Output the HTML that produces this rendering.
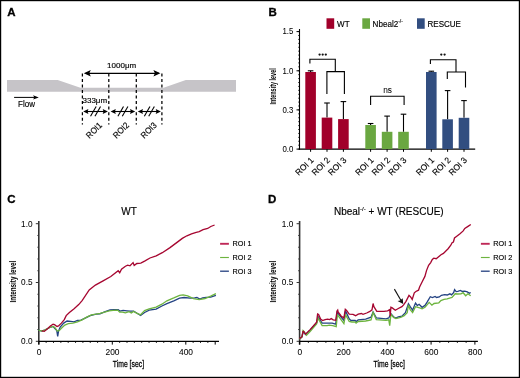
<!DOCTYPE html>
<html><head><meta charset="utf-8"><style>
html,body{margin:0;padding:0;background:#fff;}
svg{display:block;will-change:transform;}
text{font-family:"Liberation Sans", sans-serif;fill:#000;}
</style></head><body>
<svg width="520" height="378" viewBox="0 0 520 378">
<rect x="0" y="0" width="520" height="378" fill="#fff"/>
<text transform="translate(7.30 16.00)" font-size="11.5" stroke="#000" stroke-width="0.3" font-weight="bold">A</text>
<polygon fill="#c6c4c8" points="7,80 57.7,80 80.4,87.8 163.6,87.8 185.8,80 236,80 236,91.7 7,91.7"/>
<line x1="14.1" y1="97.4" x2="35" y2="97.4" stroke="#000" stroke-width="1"/>
<polygon points="38.8,97.4 33.1,95.3 34.3,97.4 33.1,99.5" fill="#000"/>
<text transform="translate(18.10 107.30) scale(0.93 1)" font-size="8.6" stroke="#000" stroke-width="0.15">Flow</text>
<line x1="82.4" y1="73.5" x2="82.4" y2="124.4" stroke="#000" stroke-width="1.25" stroke-dasharray="3,2.52"/>
<line x1="108.8" y1="73.5" x2="108.8" y2="124.4" stroke="#000" stroke-width="1.25" stroke-dasharray="3,2.52"/>
<line x1="136.3" y1="73.5" x2="136.3" y2="124.4" stroke="#000" stroke-width="1.25" stroke-dasharray="3,2.52"/>
<line x1="161.9" y1="73.5" x2="161.9" y2="124.4" stroke="#000" stroke-width="1.25" stroke-dasharray="3,2.52"/>
<line x1="86" y1="73.3" x2="159" y2="73.3" stroke="#000" stroke-width="1.15"/>
<polygon points="83.8,73.3 90.8,70.1 89.3,73.3 90.8,76.5" fill="#000"/>
<polygon points="160.4,73.3 153.4,70.1 154.9,73.3 153.4,76.5" fill="#000"/>
<text transform="translate(107.10 67.60)" font-size="8" stroke="#000" stroke-width="0.15">1000μm</text>
<text transform="translate(82.50 102.50)" font-size="8" stroke="#000" stroke-width="0.15">333μm</text>
<line x1="86.2" y1="111.5" x2="104.9" y2="111.5" stroke="#000" stroke-width="1.1"/>
<polygon points="83.2,111.5 88.4,109.1 87.60000000000001,111.5 88.4,113.9" fill="#000"/>
<polygon points="107.9,111.5 102.7,109.1 103.5,111.5 102.7,113.9" fill="#000"/>
<line x1="90.55" y1="116.3" x2="96.15" y2="106.5" stroke="#000" stroke-width="1.1"/>
<line x1="94.95" y1="116.3" x2="100.55" y2="106.5" stroke="#000" stroke-width="1.1"/>
<line x1="113.6" y1="111.5" x2="132.2" y2="111.5" stroke="#000" stroke-width="1.1"/>
<polygon points="110.6,111.5 115.8,109.1 115.0,111.5 115.8,113.9" fill="#000"/>
<polygon points="135.2,111.5 130.0,109.1 130.79999999999998,111.5 130.0,113.9" fill="#000"/>
<line x1="117.90" y1="116.3" x2="123.50" y2="106.5" stroke="#000" stroke-width="1.1"/>
<line x1="122.30" y1="116.3" x2="127.90" y2="106.5" stroke="#000" stroke-width="1.1"/>
<line x1="140.8" y1="111.5" x2="157.9" y2="111.5" stroke="#000" stroke-width="1.1"/>
<polygon points="137.8,111.5 143.0,109.1 142.20000000000002,111.5 143.0,113.9" fill="#000"/>
<polygon points="160.9,111.5 155.70000000000002,109.1 156.5,111.5 155.70000000000002,113.9" fill="#000"/>
<line x1="144.35" y1="116.3" x2="149.95" y2="106.5" stroke="#000" stroke-width="1.1"/>
<line x1="148.75" y1="116.3" x2="154.35" y2="106.5" stroke="#000" stroke-width="1.1"/>
<text transform="translate(89.60 138.90) rotate(-45) scale(0.91 1)" font-size="8.7" stroke="#000" stroke-width="0.15">ROI1</text>
<text transform="translate(116.50 138.90) rotate(-45) scale(0.91 1)" font-size="8.7" stroke="#000" stroke-width="0.15">ROI2</text>
<text transform="translate(144.20 138.90) rotate(-45) scale(0.91 1)" font-size="8.7" stroke="#000" stroke-width="0.15">ROI3</text>
<text transform="translate(268.60 16.20)" font-size="11.5" stroke="#000" stroke-width="0.3" font-weight="bold">B</text>
<rect x="326.5" y="18.3" width="7.7" height="10.5" fill="#a1002a"/>
<text transform="translate(337.10 26.60) scale(0.94 1)" font-size="8.6" stroke="#000" stroke-width="0.15">WT</text>
<rect x="362.3" y="18.3" width="7.7" height="10.5" fill="#6aa741"/>
<text transform="translate(372.6 26.6) scale(0.94 1)" font-size="8.6" stroke="#000" stroke-width="0.15">Nbeal2<tspan font-size="5.2" dy="-4">-/-</tspan></text>
<rect x="417" y="18.3" width="7.7" height="10.5" fill="#324e80"/>
<text transform="translate(427.50 26.60) scale(0.935 1)" font-size="8.6" stroke="#000" stroke-width="0.15">RESCUE</text>
<line x1="299.5" y1="29" x2="299.5" y2="149.6" stroke="#000" stroke-width="1.1"/>
<line x1="299.0" y1="149.1" x2="475.2" y2="149.1" stroke="#000" stroke-width="1.1"/>
<line x1="298.2" y1="149.10" x2="299.5" y2="149.10" stroke="#000" stroke-width="0.8"/>
<line x1="298.2" y1="145.18" x2="299.5" y2="145.18" stroke="#000" stroke-width="0.8"/>
<line x1="298.2" y1="141.26" x2="299.5" y2="141.26" stroke="#000" stroke-width="0.8"/>
<line x1="298.2" y1="137.35" x2="299.5" y2="137.35" stroke="#000" stroke-width="0.8"/>
<line x1="298.2" y1="133.43" x2="299.5" y2="133.43" stroke="#000" stroke-width="0.8"/>
<line x1="298.2" y1="129.51" x2="299.5" y2="129.51" stroke="#000" stroke-width="0.8"/>
<line x1="298.2" y1="125.59" x2="299.5" y2="125.59" stroke="#000" stroke-width="0.8"/>
<line x1="298.2" y1="121.68" x2="299.5" y2="121.68" stroke="#000" stroke-width="0.8"/>
<line x1="298.2" y1="117.76" x2="299.5" y2="117.76" stroke="#000" stroke-width="0.8"/>
<line x1="298.2" y1="113.84" x2="299.5" y2="113.84" stroke="#000" stroke-width="0.8"/>
<line x1="298.2" y1="109.92" x2="299.5" y2="109.92" stroke="#000" stroke-width="0.8"/>
<line x1="298.2" y1="106.01" x2="299.5" y2="106.01" stroke="#000" stroke-width="0.8"/>
<line x1="298.2" y1="102.09" x2="299.5" y2="102.09" stroke="#000" stroke-width="0.8"/>
<line x1="298.2" y1="98.17" x2="299.5" y2="98.17" stroke="#000" stroke-width="0.8"/>
<line x1="298.2" y1="94.25" x2="299.5" y2="94.25" stroke="#000" stroke-width="0.8"/>
<line x1="298.2" y1="90.34" x2="299.5" y2="90.34" stroke="#000" stroke-width="0.8"/>
<line x1="298.2" y1="86.42" x2="299.5" y2="86.42" stroke="#000" stroke-width="0.8"/>
<line x1="298.2" y1="82.50" x2="299.5" y2="82.50" stroke="#000" stroke-width="0.8"/>
<line x1="298.2" y1="78.58" x2="299.5" y2="78.58" stroke="#000" stroke-width="0.8"/>
<line x1="298.2" y1="74.67" x2="299.5" y2="74.67" stroke="#000" stroke-width="0.8"/>
<line x1="298.2" y1="70.75" x2="299.5" y2="70.75" stroke="#000" stroke-width="0.8"/>
<line x1="298.2" y1="66.83" x2="299.5" y2="66.83" stroke="#000" stroke-width="0.8"/>
<line x1="298.2" y1="62.91" x2="299.5" y2="62.91" stroke="#000" stroke-width="0.8"/>
<line x1="298.2" y1="59.00" x2="299.5" y2="59.00" stroke="#000" stroke-width="0.8"/>
<line x1="298.2" y1="55.08" x2="299.5" y2="55.08" stroke="#000" stroke-width="0.8"/>
<line x1="298.2" y1="51.16" x2="299.5" y2="51.16" stroke="#000" stroke-width="0.8"/>
<line x1="298.2" y1="47.25" x2="299.5" y2="47.25" stroke="#000" stroke-width="0.8"/>
<line x1="298.2" y1="43.33" x2="299.5" y2="43.33" stroke="#000" stroke-width="0.8"/>
<line x1="298.2" y1="39.41" x2="299.5" y2="39.41" stroke="#000" stroke-width="0.8"/>
<line x1="298.2" y1="35.49" x2="299.5" y2="35.49" stroke="#000" stroke-width="0.8"/>
<line x1="298.2" y1="31.58" x2="299.5" y2="31.58" stroke="#000" stroke-width="0.8"/>
<line x1="296.5" y1="31.6" x2="299.5" y2="31.6" stroke="#000" stroke-width="1"/>
<text transform="translate(293.30 34.40) scale(0.93 1)" font-size="8.4" text-anchor="end" stroke="#000" stroke-width="0.05">1.5</text>
<line x1="296.5" y1="70.8" x2="299.5" y2="70.8" stroke="#000" stroke-width="1"/>
<text transform="translate(293.30 73.60) scale(0.93 1)" font-size="8.4" text-anchor="end" stroke="#000" stroke-width="0.05">1.0</text>
<line x1="296.5" y1="109.9" x2="299.5" y2="109.9" stroke="#000" stroke-width="1"/>
<text transform="translate(293.30 112.70) scale(0.93 1)" font-size="8.4" text-anchor="end" stroke="#000" stroke-width="0.05">0.3</text>
<line x1="296.5" y1="149.1" x2="299.5" y2="149.1" stroke="#000" stroke-width="1"/>
<text transform="translate(293.30 151.90) scale(0.93 1)" font-size="8.4" text-anchor="end" stroke="#000" stroke-width="0.05">0.0</text>
<text transform="translate(276.30 86.40) rotate(-90) scale(0.59 1)" font-size="9.3" text-anchor="middle" font-weight="bold">Intensity level</text>
<line x1="310.6" y1="70.8" x2="310.6" y2="72.0" stroke="#000" stroke-width="1.1"/>
<line x1="307.80" y1="70.8" x2="313.40" y2="70.8" stroke="#000" stroke-width="1.1"/>
<rect x="305.30" y="72.0" width="10.6" height="77.10" fill="#a1002a"/>
<line x1="310.6" y1="149.1" x2="310.6" y2="151.8" stroke="#000" stroke-width="1"/>
<text transform="translate(314.20 160.70) rotate(-45) scale(0.97 1)" font-size="8.6" text-anchor="end" stroke="#000" stroke-width="0.15">ROI 1</text>
<line x1="327.0" y1="103.0" x2="327.0" y2="117.6" stroke="#000" stroke-width="1.1"/>
<line x1="324.20" y1="103.0" x2="329.80" y2="103.0" stroke="#000" stroke-width="1.1"/>
<rect x="321.70" y="117.6" width="10.6" height="31.50" fill="#a1002a"/>
<line x1="327.0" y1="149.1" x2="327.0" y2="151.8" stroke="#000" stroke-width="1"/>
<text transform="translate(330.60 160.70) rotate(-45) scale(0.97 1)" font-size="8.6" text-anchor="end" stroke="#000" stroke-width="0.15">ROI 2</text>
<line x1="343.4" y1="101.6" x2="343.4" y2="119.1" stroke="#000" stroke-width="1.1"/>
<line x1="340.60" y1="101.6" x2="346.20" y2="101.6" stroke="#000" stroke-width="1.1"/>
<rect x="338.10" y="119.1" width="10.6" height="30.00" fill="#a1002a"/>
<line x1="343.4" y1="149.1" x2="343.4" y2="151.8" stroke="#000" stroke-width="1"/>
<text transform="translate(347.00 160.70) rotate(-45) scale(0.97 1)" font-size="8.6" text-anchor="end" stroke="#000" stroke-width="0.15">ROI 3</text>
<line x1="370.6" y1="123.5" x2="370.6" y2="125.0" stroke="#000" stroke-width="1.1"/>
<line x1="367.80" y1="123.5" x2="373.40" y2="123.5" stroke="#000" stroke-width="1.1"/>
<rect x="365.30" y="125.0" width="10.6" height="24.10" fill="#6aa741"/>
<line x1="370.6" y1="149.1" x2="370.6" y2="151.8" stroke="#000" stroke-width="1"/>
<text transform="translate(374.20 160.70) rotate(-45) scale(0.97 1)" font-size="8.6" text-anchor="end" stroke="#000" stroke-width="0.15">ROI 1</text>
<line x1="387.1" y1="116.1" x2="387.1" y2="131.8" stroke="#000" stroke-width="1.1"/>
<line x1="384.30" y1="116.1" x2="389.90" y2="116.1" stroke="#000" stroke-width="1.1"/>
<rect x="381.80" y="131.8" width="10.6" height="17.30" fill="#6aa741"/>
<line x1="387.1" y1="149.1" x2="387.1" y2="151.8" stroke="#000" stroke-width="1"/>
<text transform="translate(390.70 160.70) rotate(-45) scale(0.97 1)" font-size="8.6" text-anchor="end" stroke="#000" stroke-width="0.15">ROI 2</text>
<line x1="403.5" y1="114.2" x2="403.5" y2="131.8" stroke="#000" stroke-width="1.1"/>
<line x1="400.70" y1="114.2" x2="406.30" y2="114.2" stroke="#000" stroke-width="1.1"/>
<rect x="398.20" y="131.8" width="10.6" height="17.30" fill="#6aa741"/>
<line x1="403.5" y1="149.1" x2="403.5" y2="151.8" stroke="#000" stroke-width="1"/>
<text transform="translate(407.10 160.70) rotate(-45) scale(0.97 1)" font-size="8.6" text-anchor="end" stroke="#000" stroke-width="0.15">ROI 3</text>
<line x1="431.3" y1="71.2" x2="431.3" y2="72.0" stroke="#000" stroke-width="1.1"/>
<line x1="428.50" y1="71.2" x2="434.10" y2="71.2" stroke="#000" stroke-width="1.1"/>
<rect x="426.00" y="72.0" width="10.6" height="77.10" fill="#324e80"/>
<line x1="431.3" y1="149.1" x2="431.3" y2="151.8" stroke="#000" stroke-width="1"/>
<text transform="translate(434.90 160.70) rotate(-45) scale(0.97 1)" font-size="8.6" text-anchor="end" stroke="#000" stroke-width="0.15">ROI 1</text>
<line x1="447.6" y1="90.6" x2="447.6" y2="119.3" stroke="#000" stroke-width="1.1"/>
<line x1="444.80" y1="90.6" x2="450.40" y2="90.6" stroke="#000" stroke-width="1.1"/>
<rect x="442.30" y="119.3" width="10.6" height="29.80" fill="#324e80"/>
<line x1="447.6" y1="149.1" x2="447.6" y2="151.8" stroke="#000" stroke-width="1"/>
<text transform="translate(451.20 160.70) rotate(-45) scale(0.97 1)" font-size="8.6" text-anchor="end" stroke="#000" stroke-width="0.15">ROI 2</text>
<line x1="464.0" y1="100.6" x2="464.0" y2="117.8" stroke="#000" stroke-width="1.1"/>
<line x1="461.20" y1="100.6" x2="466.80" y2="100.6" stroke="#000" stroke-width="1.1"/>
<rect x="458.70" y="117.8" width="10.6" height="31.30" fill="#324e80"/>
<line x1="464.0" y1="149.1" x2="464.0" y2="151.8" stroke="#000" stroke-width="1"/>
<text transform="translate(467.60 160.70) rotate(-45) scale(0.97 1)" font-size="8.6" text-anchor="end" stroke="#000" stroke-width="0.15">ROI 3</text>
<polyline fill="none" stroke="#000" stroke-width="1.1" points="309.9,63.6 309.9,59.3 335.3,59.3 335.3,71.6"/>
<polyline fill="none" stroke="#000" stroke-width="1.1" points="326.9,94 326.9,71.6 344.4,71.6 344.4,94"/>
<circle cx="319.6" cy="54.6" r="1.15" fill="#111"/>
<circle cx="322.7" cy="54.6" r="1.15" fill="#111"/>
<circle cx="325.8" cy="54.6" r="1.15" fill="#111"/>
<polyline fill="none" stroke="#000" stroke-width="1.1" points="370.6,104.9 370.6,96.2 404.1,96.2 404.1,104.9"/>
<text transform="translate(387.60 92.90)" font-size="8.3" text-anchor="middle" stroke="#000" stroke-width="0.04">ns</text>
<polyline fill="none" stroke="#000" stroke-width="1.1" points="430.4,64 430.4,59.8 456,59.8 456,72"/>
<polyline fill="none" stroke="#000" stroke-width="1.1" points="447.3,79.1 447.3,72 465.5,72 465.5,87.5"/>
<circle cx="441.3" cy="54.6" r="1.15" fill="#111"/>
<circle cx="444.6" cy="54.6" r="1.15" fill="#111"/>
<text transform="translate(129.00 215.20)" font-size="10" text-anchor="middle" stroke="#000" stroke-width="0.15">WT</text>
<text transform="translate(7.20 203.30)" font-size="11.5" stroke="#000" stroke-width="0.3" font-weight="bold">C</text>
<line x1="38.8" y1="221" x2="38.8" y2="344.6" stroke="#333" stroke-width="1.6"/>
<line x1="38.099999999999994" y1="341.3" x2="219" y2="341.3" stroke="#000" stroke-width="1.2"/>
<line x1="35.8" y1="341.30" x2="38.8" y2="341.30" stroke="#333" stroke-width="1"/>
<line x1="37.4" y1="329.54" x2="38.8" y2="329.54" stroke="#333" stroke-width="1"/>
<line x1="37.4" y1="317.78" x2="38.8" y2="317.78" stroke="#333" stroke-width="1"/>
<line x1="37.4" y1="306.02" x2="38.8" y2="306.02" stroke="#333" stroke-width="1"/>
<line x1="37.4" y1="294.26" x2="38.8" y2="294.26" stroke="#333" stroke-width="1"/>
<line x1="35.8" y1="282.50" x2="38.8" y2="282.50" stroke="#333" stroke-width="1"/>
<line x1="37.4" y1="270.74" x2="38.8" y2="270.74" stroke="#333" stroke-width="1"/>
<line x1="37.4" y1="258.98" x2="38.8" y2="258.98" stroke="#333" stroke-width="1"/>
<line x1="37.4" y1="247.22" x2="38.8" y2="247.22" stroke="#333" stroke-width="1"/>
<line x1="37.4" y1="235.46" x2="38.8" y2="235.46" stroke="#333" stroke-width="1"/>
<line x1="35.8" y1="223.70" x2="38.8" y2="223.70" stroke="#333" stroke-width="1"/>
<text transform="translate(32.50 344.20) scale(0.97 1)" font-size="8.5" text-anchor="end" stroke="#000" stroke-width="0.05">0.0</text>
<text transform="translate(32.50 285.40) scale(0.97 1)" font-size="8.5" text-anchor="end" stroke="#000" stroke-width="0.05">0.5</text>
<text transform="translate(32.50 226.60) scale(0.97 1)" font-size="8.5" text-anchor="end" stroke="#000" stroke-width="0.05">1.0</text>
<line x1="38.80" y1="341.3" x2="38.80" y2="344.6" stroke="#000" stroke-width="1"/>
<line x1="46.15" y1="341.3" x2="46.15" y2="342.8" stroke="#000" stroke-width="1"/>
<line x1="53.50" y1="341.3" x2="53.50" y2="342.8" stroke="#000" stroke-width="1"/>
<line x1="60.85" y1="341.3" x2="60.85" y2="342.8" stroke="#000" stroke-width="1"/>
<line x1="68.20" y1="341.3" x2="68.20" y2="342.8" stroke="#000" stroke-width="1"/>
<line x1="75.55" y1="341.3" x2="75.55" y2="342.8" stroke="#000" stroke-width="1"/>
<line x1="82.90" y1="341.3" x2="82.90" y2="342.8" stroke="#000" stroke-width="1"/>
<line x1="90.25" y1="341.3" x2="90.25" y2="342.8" stroke="#000" stroke-width="1"/>
<line x1="97.60" y1="341.3" x2="97.60" y2="342.8" stroke="#000" stroke-width="1"/>
<line x1="104.95" y1="341.3" x2="104.95" y2="342.8" stroke="#000" stroke-width="1"/>
<line x1="112.30" y1="341.3" x2="112.30" y2="344.6" stroke="#000" stroke-width="1"/>
<line x1="119.65" y1="341.3" x2="119.65" y2="342.8" stroke="#000" stroke-width="1"/>
<line x1="127.00" y1="341.3" x2="127.00" y2="342.8" stroke="#000" stroke-width="1"/>
<line x1="134.35" y1="341.3" x2="134.35" y2="342.8" stroke="#000" stroke-width="1"/>
<line x1="141.70" y1="341.3" x2="141.70" y2="342.8" stroke="#000" stroke-width="1"/>
<line x1="149.05" y1="341.3" x2="149.05" y2="342.8" stroke="#000" stroke-width="1"/>
<line x1="156.40" y1="341.3" x2="156.40" y2="342.8" stroke="#000" stroke-width="1"/>
<line x1="163.75" y1="341.3" x2="163.75" y2="342.8" stroke="#000" stroke-width="1"/>
<line x1="171.10" y1="341.3" x2="171.10" y2="342.8" stroke="#000" stroke-width="1"/>
<line x1="178.45" y1="341.3" x2="178.45" y2="342.8" stroke="#000" stroke-width="1"/>
<line x1="185.80" y1="341.3" x2="185.80" y2="344.6" stroke="#000" stroke-width="1"/>
<line x1="193.15" y1="341.3" x2="193.15" y2="342.8" stroke="#000" stroke-width="1"/>
<line x1="200.50" y1="341.3" x2="200.50" y2="342.8" stroke="#000" stroke-width="1"/>
<line x1="207.85" y1="341.3" x2="207.85" y2="342.8" stroke="#000" stroke-width="1"/>
<line x1="215.20" y1="341.3" x2="215.20" y2="344.6" stroke="#000" stroke-width="1"/>
<text transform="translate(39.00 354.90) scale(0.99 1)" font-size="8.5" text-anchor="middle" stroke="#000" stroke-width="0.05">0</text>
<text transform="translate(112.50 354.90) scale(0.99 1)" font-size="8.5" text-anchor="middle" stroke="#000" stroke-width="0.05">200</text>
<text transform="translate(186.00 354.90) scale(0.99 1)" font-size="8.5" text-anchor="middle" stroke="#000" stroke-width="0.05">400</text>
<text transform="translate(128.40 367.30) scale(0.76 1)" font-size="9" text-anchor="middle" stroke="#000" stroke-width="0.26">Time [sec]</text>
<text transform="translate(15.60 281.60) rotate(-90) scale(0.68 1)" font-size="9.3" text-anchor="middle" font-weight="bold">Intensity level</text>
<polyline fill="none" stroke="#244383" stroke-width="1.32" stroke-linejoin="miter" stroke-miterlimit="3" points="38.5,330.2 41.8,331.1 45.2,329.8 48.7,328.0 53.1,326.5 56.8,330.6 57.7,336.3 58.5,331.1 60.2,327.1 63.7,323.1 67.1,321.0 70.6,321.3 74.1,321.9 77.5,320.5 81.0,320.2 86.7,317.3 90.2,315.6 96.0,314.1 100.0,313.8 104.6,311.9 110.0,309.9 113.8,309.6 118.1,309.7 120.0,311.1 123.1,310.4 126.9,310.8 130.0,311.2 133.6,311.2 137.1,313.2 140.6,315.5 144.6,312.5 149.2,310.2 156.1,309.2 161.9,306.0 166.9,303.6 173.8,300.8 179.6,298.2 184.2,297.5 190.0,298.2 194.6,297.9 196.9,297.5 199.8,299.0 202.7,297.9 206.1,297.3 210.7,297.1 215.9,295.3"/>
<polyline fill="none" stroke="#6db43f" stroke-width="1.32" stroke-linejoin="miter" stroke-miterlimit="3" points="38.5,330.2 41.8,331.1 45.2,329.8 48.7,328.0 53.1,326.5 55.0,327.7 57.3,331.1 59.1,330.6 61.4,328.3 64.8,325.1 68.3,323.6 72.9,323.1 77.5,321.9 82.1,319.8 86.7,317.1 91.4,314.8 96.0,314.1 100.0,313.3 104.6,312.2 109.2,310.8 113.1,310.3 117.7,310.1 119.6,312.1 122.3,312.1 125.4,312.8 129.0,311.7 131.3,312.9 133.6,311.4 137.1,313.4 140.6,314.8 144.6,310.6 149.2,308.8 156.1,307.1 161.9,304.2 166.9,300.8 173.8,297.9 179.6,295.3 183.1,294.8 187.7,295.9 193.4,298.7 199.2,299.6 205.0,298.5 210.7,296.1 215.9,293.6"/>
<polyline fill="none" stroke="#a60630" stroke-width="1.32" stroke-linejoin="miter" stroke-miterlimit="3" points="41.8,330.9 44.3,331.4 47.5,328.8 50.4,326.0 53.1,324.2 54.5,324.6 57.0,326.5 58.5,326.0 61.4,323.1 64.3,319.6 66.2,315.6 69.4,312.5 74.1,308.7 78.7,304.6 82.1,300.6 84.6,296.9 89.2,290.0 95.4,285.1 103.1,280.8 110.8,276.5 118.2,270.8 119.7,272.8 121.5,269.2 125.4,266.2 127.7,265.1 130.0,265.8 133.1,262.6 134.2,265.4 136.9,263.5 140.8,263.1 144.6,261.1 150.0,258.0 156.2,255.8 162.3,252.7 170.0,247.6 177.7,241.9 182.3,238.4 186.9,235.8 191.5,233.8 196.2,232.4 199.2,231.6 203.1,229.6 207.7,228.5 210.8,226.5 214.6,225.0"/>
<line x1="220.1" y1="243.8" x2="228.9" y2="243.8" stroke="#bf2857" stroke-width="1.9"/>
<text transform="translate(232.50 246.40) scale(0.9 1)" font-size="8.1" stroke="#000" stroke-width="0.15">ROI 1</text>
<line x1="220.1" y1="257.5" x2="228.9" y2="257.5" stroke="#6db43f" stroke-width="1.15"/>
<text transform="translate(232.50 260.10) scale(0.9 1)" font-size="8.1" stroke="#000" stroke-width="0.15">ROI 2</text>
<line x1="220.1" y1="271.2" x2="228.9" y2="271.2" stroke="#233f7f" stroke-width="1.3"/>
<text transform="translate(232.50 273.80) scale(0.9 1)" font-size="8.1" stroke="#000" stroke-width="0.15">ROI 3</text>
<text transform="translate(388.8 215)" font-size="10" text-anchor="middle" stroke="#000" stroke-width="0.15">Nbeal<tspan font-size="6" dy="-3.8">-/-</tspan><tspan dy="3.8"> + WT (RESCUE)</tspan></text>
<text transform="translate(268.00 203.30)" font-size="11.5" stroke="#000" stroke-width="0.3" font-weight="bold">D</text>
<line x1="299.6" y1="221" x2="299.6" y2="344.6" stroke="#333" stroke-width="1.6"/>
<line x1="298.90000000000003" y1="341.3" x2="477.9" y2="341.3" stroke="#000" stroke-width="1.2"/>
<line x1="296.6" y1="341.30" x2="299.6" y2="341.30" stroke="#333" stroke-width="1"/>
<line x1="298.20000000000005" y1="329.54" x2="299.6" y2="329.54" stroke="#333" stroke-width="1"/>
<line x1="298.20000000000005" y1="317.78" x2="299.6" y2="317.78" stroke="#333" stroke-width="1"/>
<line x1="298.20000000000005" y1="306.02" x2="299.6" y2="306.02" stroke="#333" stroke-width="1"/>
<line x1="298.20000000000005" y1="294.26" x2="299.6" y2="294.26" stroke="#333" stroke-width="1"/>
<line x1="296.6" y1="282.50" x2="299.6" y2="282.50" stroke="#333" stroke-width="1"/>
<line x1="298.20000000000005" y1="270.74" x2="299.6" y2="270.74" stroke="#333" stroke-width="1"/>
<line x1="298.20000000000005" y1="258.98" x2="299.6" y2="258.98" stroke="#333" stroke-width="1"/>
<line x1="298.20000000000005" y1="247.22" x2="299.6" y2="247.22" stroke="#333" stroke-width="1"/>
<line x1="298.20000000000005" y1="235.46" x2="299.6" y2="235.46" stroke="#333" stroke-width="1"/>
<line x1="296.6" y1="223.70" x2="299.6" y2="223.70" stroke="#333" stroke-width="1"/>
<text transform="translate(293.30 344.20) scale(0.97 1)" font-size="8.5" text-anchor="end" stroke="#000" stroke-width="0.05">0.0</text>
<text transform="translate(293.30 285.40) scale(0.97 1)" font-size="8.5" text-anchor="end" stroke="#000" stroke-width="0.05">0.5</text>
<text transform="translate(293.30 226.60) scale(0.97 1)" font-size="8.5" text-anchor="end" stroke="#000" stroke-width="0.05">1.0</text>
<line x1="299.60" y1="341.3" x2="299.60" y2="344.6" stroke="#000" stroke-width="1"/>
<line x1="308.37" y1="341.3" x2="308.37" y2="342.8" stroke="#000" stroke-width="1"/>
<line x1="317.13" y1="341.3" x2="317.13" y2="342.8" stroke="#000" stroke-width="1"/>
<line x1="325.90" y1="341.3" x2="325.90" y2="342.8" stroke="#000" stroke-width="1"/>
<line x1="334.66" y1="341.3" x2="334.66" y2="342.8" stroke="#000" stroke-width="1"/>
<line x1="343.43" y1="341.3" x2="343.43" y2="344.6" stroke="#000" stroke-width="1"/>
<line x1="352.19" y1="341.3" x2="352.19" y2="342.8" stroke="#000" stroke-width="1"/>
<line x1="360.96" y1="341.3" x2="360.96" y2="342.8" stroke="#000" stroke-width="1"/>
<line x1="369.72" y1="341.3" x2="369.72" y2="342.8" stroke="#000" stroke-width="1"/>
<line x1="378.49" y1="341.3" x2="378.49" y2="342.8" stroke="#000" stroke-width="1"/>
<line x1="387.25" y1="341.3" x2="387.25" y2="344.6" stroke="#000" stroke-width="1"/>
<line x1="396.02" y1="341.3" x2="396.02" y2="342.8" stroke="#000" stroke-width="1"/>
<line x1="404.78" y1="341.3" x2="404.78" y2="342.8" stroke="#000" stroke-width="1"/>
<line x1="413.55" y1="341.3" x2="413.55" y2="342.8" stroke="#000" stroke-width="1"/>
<line x1="422.31" y1="341.3" x2="422.31" y2="342.8" stroke="#000" stroke-width="1"/>
<line x1="431.08" y1="341.3" x2="431.08" y2="344.6" stroke="#000" stroke-width="1"/>
<line x1="439.84" y1="341.3" x2="439.84" y2="342.8" stroke="#000" stroke-width="1"/>
<line x1="448.61" y1="341.3" x2="448.61" y2="342.8" stroke="#000" stroke-width="1"/>
<line x1="457.37" y1="341.3" x2="457.37" y2="342.8" stroke="#000" stroke-width="1"/>
<line x1="466.14" y1="341.3" x2="466.14" y2="342.8" stroke="#000" stroke-width="1"/>
<line x1="474.90" y1="341.3" x2="474.90" y2="344.6" stroke="#000" stroke-width="1"/>
<text transform="translate(299.80 354.90) scale(0.99 1)" font-size="8.5" text-anchor="middle" stroke="#000" stroke-width="0.05">0</text>
<text transform="translate(343.60 354.90) scale(0.99 1)" font-size="8.5" text-anchor="middle" stroke="#000" stroke-width="0.05">200</text>
<text transform="translate(387.50 354.90) scale(0.99 1)" font-size="8.5" text-anchor="middle" stroke="#000" stroke-width="0.05">400</text>
<text transform="translate(431.30 354.90) scale(0.99 1)" font-size="8.5" text-anchor="middle" stroke="#000" stroke-width="0.05">600</text>
<text transform="translate(475.10 354.90) scale(0.99 1)" font-size="8.5" text-anchor="middle" stroke="#000" stroke-width="0.05">800</text>
<text transform="translate(389.20 367.30) scale(0.76 1)" font-size="9" text-anchor="middle" stroke="#000" stroke-width="0.26">Time [sec]</text>
<text transform="translate(276.40 281.60) rotate(-90) scale(0.68 1)" font-size="9.3" text-anchor="middle" font-weight="bold">Intensity level</text>
<polyline fill="none" stroke="#244383" stroke-width="1.32" stroke-linejoin="miter" stroke-miterlimit="3" points="299.5,339.0 302.0,336.9 303.0,332.0 304.0,332.5 305.5,334.6 310.1,330.1 316.6,323.0 318.1,316.6 322.1,323.1 328.2,323.1 332.2,323.1 335.7,324.1 337.2,312.5 338.1,313.5 343.9,320.4 345.5,310.9 349.2,318.8 350.8,320.4 355.1,320.4 356.1,321.5 358.2,319.9 365.7,319.2 371.0,317.2 373.1,312.0 376.3,317.8 386.0,318.8 388.8,318.0 390.9,313.8 393.5,316.8 395.9,318.0 398.3,316.8 401.9,316.2 405.4,312.6 408.4,303.7 410.2,306.7 412.6,310.2 415.5,303.1 417.3,305.5 419.1,304.3 422.1,307.3 425.0,305.4 427.1,302.2 430.3,296.7 432.4,297.5 435.1,296.4 436.6,297.5 439.3,296.9 441.4,295.3 444.6,294.6 447.2,295.0 449.9,293.8 451.5,294.8 453.6,292.7 454.6,289.7 456.2,291.6 457.8,291.4 460.4,290.4 462.0,291.4 464.7,291.1 467.3,291.9 469.4,293.2 470.7,292.5"/>
<polyline fill="none" stroke="#6db43f" stroke-width="1.32" stroke-linejoin="miter" stroke-miterlimit="3" points="299.5,339.2 302.0,337.0 303.0,330.6 304.0,331.5 306.5,335.3 310.3,331.3 316.6,323.9 318.1,318.1 322.1,325.6 327.1,325.6 329.2,325.1 332.7,325.6 336.2,326.6 337.4,314.6 338.3,316.0 343.9,323.6 345.5,314.6 349.2,321.5 351.9,322.0 355.1,322.0 356.1,323.1 358.2,321.5 365.7,321.0 371.0,319.9 373.1,312.5 376.3,319.6 386.0,320.4 388.8,319.8 389.7,325.7 390.9,314.4 393.5,317.4 395.9,318.6 400.7,317.4 404.2,315.6 407.2,312.6 408.4,304.9 410.2,309.6 412.6,312.6 415.5,306.7 419.7,307.9 422.1,308.8 425.0,307.3 429.2,302.4 431.9,305.2 434.0,303.5 438.8,302.8 440.9,300.6 444.0,299.4 447.2,298.8 450.4,297.8 452.0,297.5 455.2,293.8 457.8,294.0 461.0,293.8 463.1,292.7 465.7,295.7 467.9,293.8 470.7,295.7"/>
<polyline fill="none" stroke="#a60630" stroke-width="1.32" stroke-linejoin="miter" stroke-miterlimit="3" points="299.5,338.6 302.0,336.7 303.0,331.5 303.6,331.3 305.5,334.1 310.1,329.6 316.6,322.1 317.6,314.0 318.6,314.5 320.6,319.1 322.6,320.6 325.1,319.6 327.6,319.1 329.7,319.6 331.2,318.6 333.2,319.9 335.7,320.3 337.0,311.0 337.7,310.1 338.1,312.0 341.3,316.2 343.9,317.8 345.3,309.3 346.6,310.4 349.2,314.1 353.0,314.4 355.6,315.7 358.2,314.1 361.4,313.5 363.0,314.3 366.7,313.0 369.9,311.4 372.0,309.8 373.1,303.5 373.9,306.7 376.8,311.4 380.5,311.4 384.0,311.4 387.6,310.8 389.7,309.6 390.2,316.2 390.9,307.3 392.3,307.9 395.3,310.2 398.3,308.5 401.9,306.7 403.6,304.9 406.0,301.3 409.0,295.4 410.6,297.0 412.2,299.4 414.3,292.8 415.9,291.5 418.5,290.2 419.6,287.0 422.2,281.7 424.9,276.4 426.5,270.6 428.6,265.3 430.7,262.6 432.3,259.4 433.8,258.2 436.2,258.7 441.0,254.7 443.4,253.4 448.1,248.7 450.8,245.2 452.1,242.8 453.4,242.0 454.5,238.0 456.1,236.7 460.0,233.7 463.2,230.9 464.8,228.5 468.0,226.4 470.8,224.5"/>
<line x1="480.9" y1="243.8" x2="489.7" y2="243.8" stroke="#bf2857" stroke-width="1.9"/>
<text transform="translate(493.30 246.40) scale(0.9 1)" font-size="8.1" stroke="#000" stroke-width="0.15">ROI 1</text>
<line x1="480.9" y1="257.5" x2="489.7" y2="257.5" stroke="#6db43f" stroke-width="1.15"/>
<text transform="translate(493.30 260.10) scale(0.9 1)" font-size="8.1" stroke="#000" stroke-width="0.15">ROI 2</text>
<line x1="480.9" y1="271.2" x2="489.7" y2="271.2" stroke="#233f7f" stroke-width="1.3"/>
<text transform="translate(493.30 273.80) scale(0.9 1)" font-size="8.1" stroke="#000" stroke-width="0.15">ROI 3</text>
<line x1="394.4" y1="289.1" x2="401" y2="300.5" stroke="#111" stroke-width="1.1"/>
<polygon points="403.2,304.1 397.6,301.1 400.1,300.4 402.7,298.3" fill="#111"/>
<rect x="0.6" y="0.6" width="518.8" height="376.8" fill="none" stroke="#000" stroke-width="1.2"/>
</svg>
</body></html>
